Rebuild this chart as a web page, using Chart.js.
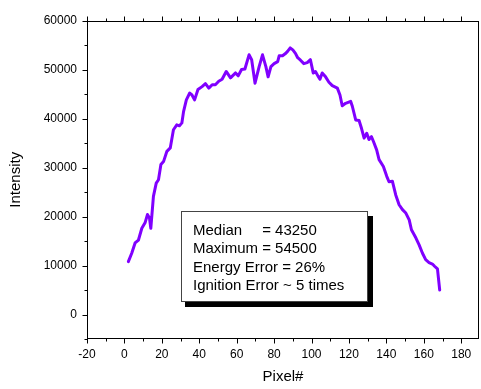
<!DOCTYPE html>
<html><head><meta charset="utf-8">
<script src="https://cdn.jsdelivr.net/npm/chart.js@4.4.1/dist/chart.umd.min.js"></script>
<style>html,body{margin:0;padding:0;background:#fff}#wrap{width:481px;height:389px}</style>
</head><body><div id="wrap"><canvas id="c" width="481" height="389"></canvas></div>
<script>
const pixelX = [2.1,3.9,5.7,7.5,9.3,11.1,12.3,13.4,14.1,15.5,17.0,18.2,19.5,20.9,22.7,24.5,26.2,28.0,29.4,30.7,31.6,33.1,34.9,36.1,37.5,39.3,41.5,43.3,45.1,46.9,48.6,50.4,52.2,54.4,56.7,59.4,60.8,62.6,64.4,66.6,68.0,69.8,72.0,73.8,75.6,76.8,78.3,80.0,81.9,82.7,84.5,85.9,87.2,88.6,90.0,91.4,92.6,94.1,95.9,97.7,99.4,100.9,102.1,103.4,104.5,105.7,107.5,109.3,111.1,113.8,115.2,116.4,118.2,120.9,121.8,123.6,125.4,126.7,128.1,129.5,130.7,132.0,133.1,134.8,136.1,138.4,140.2,141.4,143.2,145.0,146.8,148.6,150.4,152.2,153.4,155.8,157.5,159.3,161.0,162.8,164.6,165.9,167.3,168.5];
const intensity = [10800,12500,14600,15200,17600,18800,20400,19700,17600,24100,26800,27500,30600,31200,33300,34000,37700,38700,38500,39100,41400,43800,45200,44800,43800,45900,46500,47100,46200,46900,46900,47600,48000,49600,48300,49300,48700,50000,50100,53000,52000,47200,50600,53000,50600,48500,50600,51200,51600,52800,52800,53200,53700,54400,54000,53300,52400,51900,51200,51400,52000,49300,49600,48700,48000,49300,48500,47400,46700,46200,44800,42600,43100,43500,42500,39700,39600,38000,36000,37000,35700,36300,35300,33600,31600,30200,28200,27100,27200,24400,22400,21400,20700,19300,17300,15600,14200,12500,11200,10600,10300,9800,9300,5000];
const xTicks = [-20,0,20,40,60,80,100,120,140,160,180];
const yTicks = [0,10000,20000,30000,40000,50000,60000];
const infoLabels = ['Median', 'Maximum', 'Energy Error', 'Ignition Error'];
const infoValues = ['= 43250', '= 54500', '= 26%', '~ 5 times'];

const FONT = 'Arial, "Liberation Sans", sans-serif';

const framePlugin = {
  id: 'frame',
  afterDraw(chart) {
    const {ctx, chartArea: a, scales: {x, y}} = chart;
    ctx.save();
    ctx.strokeStyle = '#000';
    ctx.lineWidth = 1;
    const L = Math.round(a.left) + 0.5, R = Math.round(a.right) - 0.5;
    const T = Math.round(a.top) + 0.5, B = Math.round(a.bottom) - 0.5;
    ctx.strokeRect(L, T, R - L, B - T);
    ctx.beginPath();
    const xs = xTicks[1] - xTicks[0];
    for (let v = xTicks[0]; v <= x.max; v += xs / 2) {
      const px = Math.round(x.getPixelForValue(v)) + 0.5;
      const len = ((v - xTicks[0]) % xs === 0) ? 5 : 3;
      ctx.moveTo(px, B); ctx.lineTo(px, B + len);
      ctx.moveTo(px, T); ctx.lineTo(px, T - len);
    }
    const ys = yTicks[1] - yTicks[0];
    for (let v = yTicks[0] - ys / 2; v <= y.max; v += ys / 2) {
      if (v < y.min) continue;
      const py = Math.round(y.getPixelForValue(v)) + 0.5;
      const len = (v % ys === 0) ? 5 : 3;
      ctx.moveTo(L, py); ctx.lineTo(L - len, py);
    }
    ctx.stroke();

    // info box with shadow
    const bx = 181, by = 211, bw = 187, bh = 91;
    ctx.fillStyle = '#000';
    ctx.fillRect(bx + 4, by + 5, bw + 1, bh);
    ctx.fillStyle = '#fff';
    ctx.fillRect(bx, by, bw, bh);
    ctx.strokeStyle = '#444';
    ctx.strokeRect(bx + 0.5, by + 0.5, bw - 1, bh - 1);
    ctx.fillStyle = '#000';
    ctx.font = '15px ' + FONT;
    ctx.textBaseline = 'alphabetic';
    ctx.textAlign = 'left';
    const tx = 193;
    const eqX = tx + ctx.measureText('Maximum ').width;
    for (let i = 0; i < infoLabels.length; i++) {
      const yy = 234.5 + i * 18.5;
      if (i < 2) {
        ctx.fillText(infoLabels[i], tx, yy);
        ctx.fillText(infoValues[i], eqX, yy);
      } else {
        ctx.fillText(infoLabels[i] + ' ' + infoValues[i], tx, yy);
      }
    }
    ctx.restore();
  }
};

new Chart(document.getElementById('c'), {
  type: 'line',
  data: {
    datasets: [{
      data: pixelX.map((v, i) => ({x: v, y: intensity[i]})),
      borderColor: '#8000ff',
      borderWidth: 3,
      pointRadius: 0,
      tension: 0,
      fill: false,
      borderJoinStyle: 'round',
      borderCapStyle: 'round'
    }]
  },
  options: {
    responsive: false,
    animation: false,
    devicePixelRatio: 1,
    layout: {padding: {top: 20.5, right: 2, left: 0, bottom: 0}},
    plugins: {legend: {display: false}, tooltip: {enabled: false}},
    scales: {
      x: {
        type: 'linear', min: -20, max: 189.5,
        afterFit(s) { s.height = 50; },
        afterBuildTicks(s) { s.ticks = xTicks.map(v => ({value: v})); },
        grid: {display: false, drawTicks: false},
        border: {display: false},
        ticks: {autoSkip: false, maxRotation: 0, padding: 8, color: '#000', font: {family: FONT, size: 12},
          callback: v => String(v)},
        title: {display: true, text: 'Pixel#', color: '#000', font: {family: FONT, size: 15, lineHeight: 1.2}, padding: {top: 0, bottom: 3}}
      },
      y: {
        type: 'linear', min: -5000, max: 60000,
        afterFit(s) { s.width = 87; },
        afterBuildTicks(s) { s.ticks = yTicks.map(v => ({value: v})); },
        grid: {display: false, drawTicks: false},
        border: {display: false},
        ticks: {autoSkip: false, padding: 10, color: '#000', font: {family: FONT, size: 12},
          callback: v => String(v)},
        title: {display: true, text: 'Intensity', color: '#000', font: {family: FONT, size: 15, lineHeight: 1.2}, padding: {top: 7, bottom: 0}}
      }
    }
  },
  plugins: [framePlugin]
});
</script>
</body></html>
